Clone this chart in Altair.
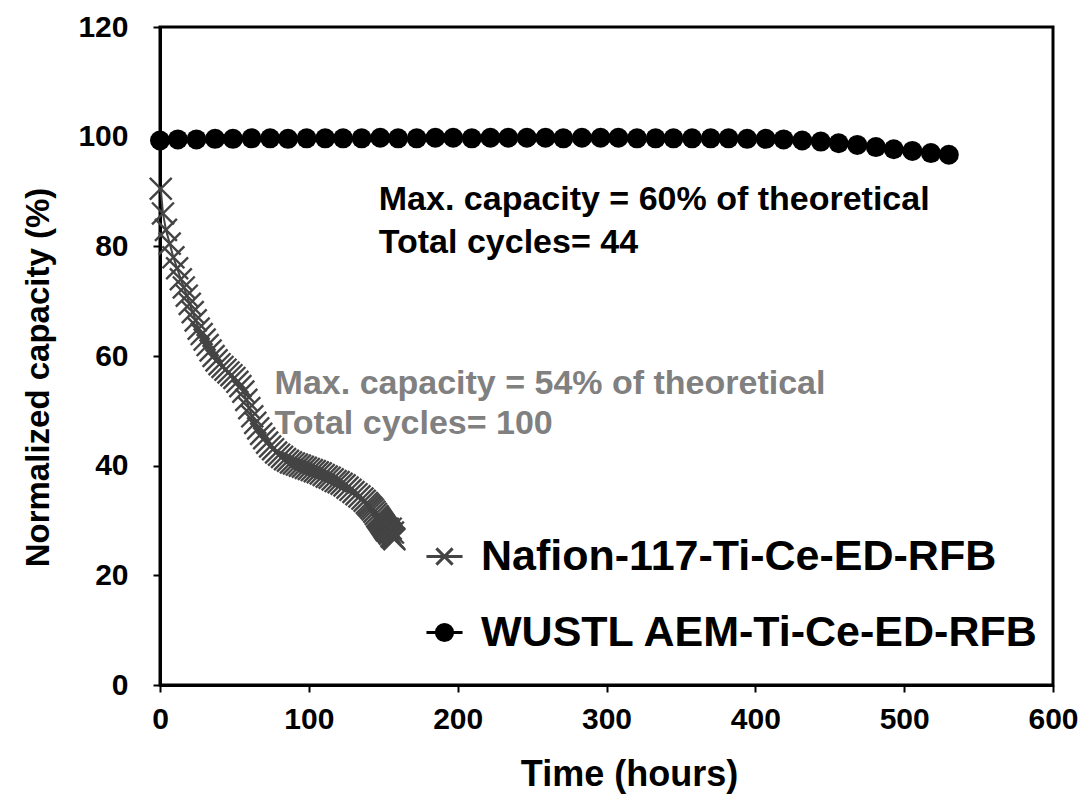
import altair as alt
import pandas as pd

FONT = "Liberation Sans"

series_names = ["Nafion-117-Ti-Ce-ED-RFB", "WUSTL AEM-Ti-Ce-ED-RFB"]

nafion_time = [
    0.5, 2, 4, 6.5, 9, 11.5, 14, 16, 18, 20,
    22, 24, 26, 28, 30, 32, 34, 36, 38, 40,
    42, 44, 46, 48, 50, 52, 54, 56, 58, 60,
    62, 64, 66, 68, 70, 72, 74, 76, 78, 80,
    82, 84, 86, 88, 90, 92, 94, 96, 98, 100,
    102, 104, 106, 108, 110, 112, 114, 116, 118, 120,
    122, 124, 126, 128, 130, 132, 134, 136, 137.5, 139,
    140, 141, 142, 143, 144, 145, 146, 146.5, 147, 147.5,
    148, 148.5, 149, 149.5, 150, 150.5, 151, 151.5, 152, 152.5,
    153, 153.5, 154, 154.5, 155, 155.5, 156, 156.5, 157, 157.5,
]
nafion_cap = [
    90.5, 86, 83, 80.5, 78, 76, 74, 72.5, 71, 69.5,
    68, 66.5, 65, 64, 63, 62, 61, 60, 59.2, 58.5,
    58, 57.5, 57, 56.5, 56, 55.3, 54.5, 53.5, 52, 50.5,
    49, 47.8, 46.8, 45.8, 45, 44.2, 43.5, 43, 42.4, 42,
    41.6, 41.2, 40.9, 40.6, 40.4, 40.2, 40, 39.8, 39.6, 39.4,
    39.2, 39, 38.8, 38.6, 38.3, 38, 37.8, 37.5, 37.2, 37,
    36.7, 36.4, 36, 35.6, 35.2, 34.8, 34.4, 34, 33.6, 33.2,
    32.9, 32.6, 32.3, 32, 31.6, 31.2, 30.8, 30.6, 30.4, 30.2,
    30, 29.8, 29.6, 29.4, 29.2, 29, 28.8, 28.6, 28.4, 28.2,
    28.5, 28, 27.8, 27.6, 28.5, 27.2, 27, 27.8, 26.8, 26.6,
]

wustl_time = [
    0, 12, 24.5, 37, 49, 61.5, 74, 86, 98.5, 111,
    123, 135.5, 148, 160, 172.5, 185, 197, 209.5, 222, 234,
    246.5, 259, 271, 283.5, 296, 308, 320.5, 333, 345, 357.5,
    370, 382, 394.5, 407, 419, 431.5, 444, 456, 468.5, 481,
    493, 505.5, 518, 530,
]
wustl_cap = [
    99.3, 99.5, 99.5, 99.6, 99.6, 99.7, 99.7, 99.6, 99.7, 99.7,
    99.7, 99.7, 99.8, 99.7, 99.7, 99.8, 99.8, 99.7, 99.8, 99.8,
    99.8, 99.8, 99.7, 99.8, 99.8, 99.8, 99.7, 99.7, 99.7, 99.7,
    99.7, 99.7, 99.6, 99.6, 99.5, 99.3, 99.1, 98.8, 98.5, 98.1,
    97.7, 97.4, 97.0, 96.7,
]

x_ticks = [0, 100, 200, 300, 400, 500, 600]
y_ticks = [0, 20, 40, 60, 80, 100, 120]

annot_black_text = ["Max. capacity = 60% of theoretical", "Total cycles= 44"]
annot_black_x = [147, 147]
annot_black_y = [88.5, 80.6]
annot_gray_text = ["Max. capacity = 54% of theoretical", "Total cycles= 100"]
annot_gray_x = [77, 77]
annot_gray_y = [54.9, 47.6]

df = pd.concat([
    pd.DataFrame({"time": nafion_time, "cap": nafion_cap, "series": series_names[0]}),
    pd.DataFrame({"time": wustl_time, "cap": wustl_cap, "series": series_names[1]}),
], ignore_index=True)

ann_b = pd.DataFrame({"x": annot_black_x, "y": annot_black_y, "text": annot_black_text})
ann_g = pd.DataFrame({"x": annot_gray_x, "y": annot_gray_y, "text": annot_gray_text})

xenc = alt.X("time:Q", scale=alt.Scale(domain=[0, 600], nice=False),
             axis=alt.Axis(values=x_ticks, title="Time (hours)", titleFontSize=36,
                           titleX=469, titleY=72, labelPadding=12, labelFlush=False, format="d"))
yenc = alt.Y("cap:Q", scale=alt.Scale(domain=[0, 120], nice=False),
             axis=alt.Axis(values=y_ticks, title="Normalized capacity (%)", titleFontSize=33,
                           titleX=-105, titleY=350, labelPadding=25, labelFlush=False, format="d"))

base = alt.Chart(df).encode(x=xenc, y=yenc)

naf = base.transform_filter(alt.datum.series == series_names[0])
wus = base.transform_filter(alt.datum.series == series_names[1])

naf_line = naf.mark_line(color="#444444", strokeWidth=2)
naf_pts = naf.mark_point(shape="M-1,-1L1,1M-1,1L1,-1", size=480, stroke="#444444",
                         strokeWidth=2.4, filled=False, opacity=1)
wus_line = wus.mark_line(color="black", strokeWidth=3)
wus_pts = wus.mark_point(shape="circle", size=400, filled=True, color="black", opacity=1)

leg_paths = [
    "M-1,0L1,0M-0.45,-0.45L0.45,0.45M-0.45,0.45L0.45,-0.45",
    "M-1,0L1,0M-0.45,0A0.45,0.45,0,1,1,0.45,0A0.45,0.45,0,1,1,-0.45,0Z",
]
leg = alt.Legend(orient="none", legendX=263, legendY=508, title=None,
                 labelFontSize=43, labelFont=FONT, labelFontWeight="bold", labelColor="black",
                 labelLimit=0, symbolSize=1300, symbolStrokeWidth=3, symbolOpacity=1,
                 rowPadding=32, labelOffset=15, padding=0)
legend_layer = base.transform_filter(alt.datum.time < -1).mark_point().encode(
    shape=alt.Shape("series:N", scale=alt.Scale(domain=series_names, range=leg_paths), legend=leg),
    fill=alt.Fill("series:N", scale=alt.Scale(domain=series_names, range=["#444444", "black"]), legend=leg),
    stroke=alt.Stroke("series:N", scale=alt.Scale(domain=series_names, range=["#444444", "black"]), legend=leg),
)

txt_b = alt.Chart(ann_b).mark_text(align="left", baseline="middle", font=FONT, fontSize=34,
                                   fontWeight="bold", color="black").encode(
    x=alt.X("x:Q"), y=alt.Y("y:Q"), text="text:N")
txt_g = alt.Chart(ann_g).mark_text(align="left", baseline="middle", font=FONT, fontSize=34,
                                   fontWeight="bold", color="#808080").encode(
    x=alt.X("x:Q"), y=alt.Y("y:Q"), text="text:N")

chart = alt.layer(naf_line, naf_pts, wus_line, wus_pts, legend_layer, txt_b, txt_g).properties(
    width=893, height=658,
    autosize=alt.AutoSizeParams(type="none"),
    padding={"left": 152, "top": 19, "right": 25, "bottom": 115},
).configure_view(stroke="black", strokeWidth=3).configure_axis(
    domainColor="black", domainWidth=3, tickColor="black", tickWidth=2, tickSize=7,
    labelFont=FONT, labelFontSize=30, labelFontWeight="bold", labelColor="black",
    titleFont=FONT, titleFontWeight="bold", titleColor="black", grid=False,
)

chart.save("out.html", embed_options={"renderer": "svg", "actions": False})
